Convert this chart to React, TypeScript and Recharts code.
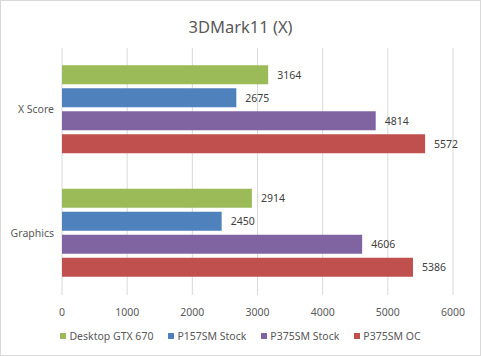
import { Bar, BarChart, CartesianGrid, LabelList, Legend, XAxis, YAxis } from "recharts";

const categories = ["X Score", "Graphics"];
const desktopGtx670 = [3164, 2914];
const p157smStock = [2675, 2450];
const p375smStock = [4814, 4606];
const p375smOc = [5572, 5386];
const xTicks = [0, 1000, 2000, 3000, 4000, 5000, 6000];

const series = [
  { key: "Desktop GTX 670", values: desktopGtx670, color: "#9bbb59" },
  { key: "P157SM Stock", values: p157smStock, color: "#4f81bd" },
  { key: "P375SM Stock", values: p375smStock, color: "#8064a2" },
  { key: "P375SM OC", values: p375smOc, color: "#c0504d" },
];

const font = "'Noto Sans', sans-serif";
const textColor = "#595959";

// legend in series order (recharts 3 sorts items by name otherwise)
function SeriesLegend() {
  return (
    <div
      style={{
        display: "flex",
        justifyContent: "center",
        gap: 15,
        fontSize: 10.5,
        fontFamily: font,
        color: textColor,
      }}
    >
      {series.map((s) => (
        <div key={s.key} style={{ display: "flex", alignItems: "center", gap: 3 }}>
          <span style={{ width: 6, height: 6, background: s.color, display: "inline-block" }} />
          <span>{s.key}</span>
        </div>
      ))}
    </div>
  );
}

export default function App() {
  const data = categories.map((name, i) => {
    const row: Record<string, string | number> = { name };
    series.forEach((s) => {
      row[s.key] = s.values[i];
    });
    return row;
  });

  return (
    <div
      style={{
        position: "absolute",
        left: 0,
        top: 0,
        width: 481,
        height: 356,
        boxSizing: "border-box",
        border: "1px solid #d9d9d9",
        background: "#fff",
        fontFamily: font,
      }}
    >
      <div
        style={{
          position: "absolute",
          top: 14,
          left: 0,
          width: "100%",
          textAlign: "center",
          fontSize: 16.5,
          color: textColor,
        }}
      >
        3DMark11 (X)
      </div>
      <BarChart
        width={479}
        height={354}
        data={data}
        layout="vertical"
        margin={{ top: 47, right: 27, left: 0, bottom: 4 }}
        barCategoryGap="14%"
        barGap={4}
      >
        <CartesianGrid horizontal={false} stroke="#d9d9d9" />
        <XAxis
          type="number"
          domain={[0, 6000]}
          ticks={xTicks}
          axisLine={false}
          tickLine={false}
          tick={{ fill: textColor, fontSize: 10.5, fontFamily: font }}
          tickMargin={8}
          height={30}
        />
        <YAxis
          type="category"
          dataKey="name"
          width={61}
          axisLine={false}
          tickLine={false}
          tick={{ fill: textColor, fontSize: 10.5, fontFamily: font }}
        />
        <Legend
          verticalAlign="bottom"
          height={26}
          content={() => <SeriesLegend />}
          wrapperStyle={{ top: 328, left: 0, width: 479 }}
        />
        {series.map((s) => (
          <Bar key={s.key} dataKey={s.key} fill={s.color} isAnimationActive={false}>
            <LabelList
              dataKey={s.key}
              position="right"
              offset={9}
              fill="#404040"
              fontSize={10.5}
              fontFamily={font}
            />
          </Bar>
        ))}
      </BarChart>
    </div>
  );
}
